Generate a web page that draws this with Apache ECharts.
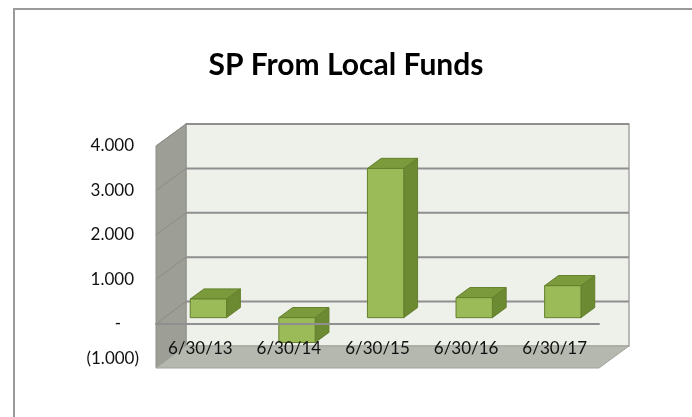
<!DOCTYPE html>
<html>
<head>
<meta charset="utf-8">
<script src="https://cdn.jsdelivr.net/npm/echarts@6/dist/echarts.min.js"></script>
<style>
  html, body { margin: 0; padding: 0; background: #fff; }
  #chart { width: 692px; height: 417px; }
</style>
</head>
<body>
<div id="chart"></div>
<script>
// data (in thousands)
const categories = ['6/30/13', '6/30/14', '6/30/15', '6/30/16', '6/30/17']
const values = [0.42, -0.56, 3.36, 0.45, 0.72]
const yTicks = [-1, 0, 1, 2, 3, 4]

const font = 'Lato'
const grid = { left: 156, right: 93, top: 146, bottom: 49 }
// offset of the back wall from the front plane
const depth = [30, -22]
// bars sit in the middle of the depth
const barFront = 0.27
const barBack = 0.73

function fmt(v) {
  if (v === 0) return '{z|-}'
  if (v < 0) return '{n|(' + Math.abs(v).toFixed(3) + ')}'
  return '{p|' + v.toFixed(3) + '}'
}

const chart = echarts.init(document.getElementById('chart'))

const option = {
  animation: false,
  title: {
    text: 'SP From Local Funds',
    left: 'center',
    top: 45,
    textStyle: { fontFamily: font, fontWeight: 'bold', fontSize: 30, color: '#000' }
  },
  grid: grid,
  xAxis: {
    type: 'category',
    data: categories,
    z: 3,
    axisLine: { onZero: true, lineStyle: { color: '#8f8f8f', width: 2 } },
    axisTick: { show: false },
    axisLabel: { fontFamily: font, fontSize: 17, color: '#111', margin: -28 }
  },
  yAxis: {
    type: 'value',
    min: -1,
    max: 4,
    interval: 1,
    splitLine: { show: false },
    axisLine: { show: false },
    axisTick: { show: false },
    axisLabel: {
      margin: 17,
      formatter: fmt,
      rich: {
        p: { fontFamily: font, fontSize: 17, color: '#111', padding: [0, 5, 0, 0] },
        z: { fontFamily: font, fontSize: 17, color: '#111', padding: [0, 18, 0, 0] },
        n: { fontFamily: font, fontSize: 17, color: '#111', padding: [0, 0, 18, 0] }
      }
    }
  },
  series: [
    {
      type: 'custom',
      z: 2,
      data: values.map((v, i) => [i, v]),
      renderItem(params, api) {
        const i = api.value(0)
        const v = api.value(1)
        const band = api.size([1, 0])[0]
        const w = band * 0.41
        const hi = api.coord([i, Math.max(v, 0)])
        const lo = api.coord([i, Math.min(v, 0)])
        const fx = depth[0] * barFront, fy = depth[1] * barFront
        const bx = depth[0] * barBack, by = depth[1] * barBack
        const l = hi[0] - w / 2, r = hi[0] + w / 2
        const stroke = '#647f2c'
        return {
          type: 'group',
          children: [
            {
              type: 'polygon',
              shape: { points: [[r + fx, hi[1] + fy], [r + bx, hi[1] + by], [r + bx, lo[1] + by], [r + fx, lo[1] + fy]] },
              style: { fill: '#6b8a31', stroke: stroke, lineWidth: 1 }
            },
            {
              type: 'polygon',
              shape: { points: [[l + fx, hi[1] + fy], [r + fx, hi[1] + fy], [r + bx, hi[1] + by], [l + bx, hi[1] + by]] },
              style: { fill: '#7b9a3c', stroke: stroke, lineWidth: 1 }
            },
            {
              type: 'rect',
              shape: { x: l + fx, y: hi[1] + fy, width: w, height: lo[1] - hi[1] },
              style: { fill: '#9bbb59', stroke: stroke, lineWidth: 1 }
            }
          ]
        }
      }
    }
  ]
}

chart.setOption(option)

// walls, floor and back gridlines, placed from the y axis scale
const x0 = grid.left
const x1 = 692 - grid.right
const py = v => chart.convertToPixel({ yAxisIndex: 0 }, v)
const yTop = py(4)
const yBot = py(-1)
const dx = depth[0], dy = depth[1]
const walls = [
  {
    type: 'rect', z: -10,
    shape: { x: 14, y: 9, width: 700, height: 430 },
    style: { fill: 'none', stroke: '#9a9a9a', lineWidth: 2 }
  },
  {
    type: 'rect', z: -5,
    shape: { x: x0 + dx, y: yTop + dy, width: x1 - x0, height: yBot - yTop },
    style: { fill: '#eef1ea', stroke: '#a6a6a6', lineWidth: 1.5 }
  },
  {
    type: 'polygon', z: -5,
    shape: { points: [[x0, yTop], [x0 + dx, yTop + dy], [x0 + dx, yBot + dy], [x0, yBot]] },
    style: { fill: '#9d9f97', stroke: '#8e9088', lineWidth: 1 }
  },
  {
    type: 'polygon', z: -5,
    shape: { points: [[x0, yBot], [x0 + dx, yBot + dy], [x1 + dx, yBot + dy], [x1, yBot]] },
    style: { fill: '#b5b8ae', stroke: '#a2a59b', lineWidth: 1 }
  }
]
yTicks.forEach(t => {
  if (t === -1) return
  const y = py(t)
  walls.push({
    type: 'line', z: -4,
    shape: { x1: x0 + dx, y1: y + dy, x2: x1 + dx, y2: y + dy },
    style: { stroke: '#8f8f8f', lineWidth: 2 }
  })
  walls.push({
    type: 'line', z: -4,
    shape: { x1: x0, y1: y, x2: x0 + dx, y2: y + dy },
    style: { stroke: '#8b8d85', lineWidth: 1 }
  })
})
chart.setOption({ graphic: walls })
</script>
</body>
</html>
